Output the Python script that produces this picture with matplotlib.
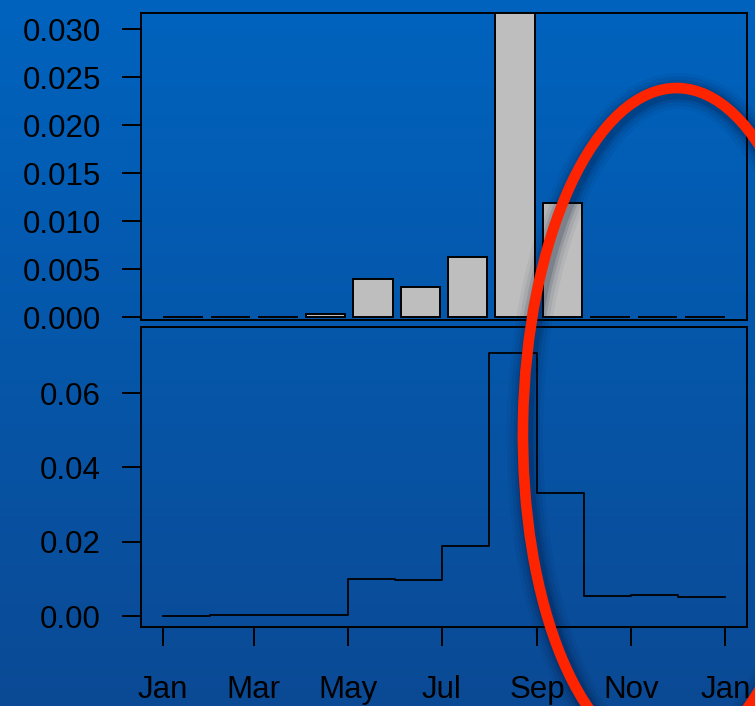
import datetime as dt
import numpy as np
import matplotlib
matplotlib.use("Agg")
import matplotlib.pyplot as plt
from matplotlib.patches import Ellipse

plt.rcParams['font.family'] = ['Liberation Sans', 'DejaVu Sans']

# monthly bar heights (Aug runs off the top of the panel)
bar_values = [0.0, 0.0, 0.0, 0.0003, 0.0040, 0.0031, 0.0063, 0.038, 0.0119, 0.0, 0.0, 0.0]
bar_ticks = [0.000, 0.005, 0.010, 0.015, 0.020, 0.025, 0.030]

# monthly step series
month_starts = [dt.date(2009, m, 1) for m in range(1, 13)]
step_values = [0.0001, 0.0004, 0.0004, 0.0003, 0.0099, 0.0097, 0.0188,
               0.0709, 0.0332, 0.0054, 0.0057, 0.0052]
step_ticks = [0.00, 0.02, 0.04, 0.06]
month_labels = ['Jan', 'Mar', 'May', 'Jul', 'Sep', 'Nov', 'Jan']

W, H = 755, 706
fig = plt.figure(figsize=(W / 100, H / 100), dpi=100)

# blue gradient backdrop
bg = fig.add_axes([0, 0, 1, 1], zorder=-5)
grad = np.linspace(0, 1, 256)[:, None]
top_c = np.array([0x00, 0x63, 0xbe]) / 255
bot_c = np.array([0x0b, 0x4a, 0x95]) / 255
img = top_c[None, None, :] * (1 - grad[:, :, None]) + bot_c[None, None, :] * grad[:, :, None]
bg.imshow(img, aspect='auto', extent=[0, 1, 0, 1], origin='upper')
bg.set_axis_off()

lw = 1.4
fs = 22.5


def frame(ax):
    ax.set_facecolor('none')
    for s in ax.spines.values():
        s.set_linewidth(lw)
        s.set_color('black')


# top panel: bar chart
ax1 = fig.add_axes([141 / W, 1 - 320 / H, 606 / W, 307 / H])
frame(ax1)
xpos = [0.7 + 1.2 * i for i in range(len(bar_values))]
ax1.bar(xpos, bar_values, width=1.0, color='#bebebe', edgecolor='black', linewidth=lw)
ax1.set_xlim(-0.368, 14.968)
ax1.set_ylim(-0.0003125, 0.03167)
ax1.set_yticks(bar_ticks)
ax1.set_yticklabels(['%.3f' % v for v in bar_ticks])
ax1.set_xticks([])
ax1.tick_params(axis='y', length=14, width=lw, pad=15, labelsize=fs, colors='black')

# bottom panel: step line
ax2 = fig.add_axes([141 / W, 1 - 627.3 / H, 606 / W, 300 / H])
frame(ax2)
end = dt.date(2010, 1, 1)
xs = month_starts + [end]
ys = step_values + [step_values[-1]]
ax2.step(xs, ys, where='post', color='black', linewidth=1.3)
span = (end - month_starts[0]).days * 0.04
ax2.set_xlim(month_starts[0] - dt.timedelta(days=span), end + dt.timedelta(days=span))
ax2.set_ylim(-0.00304, 0.0777)
ax2.set_yticks(step_ticks)
ax2.set_yticklabels(['%.2f' % v for v in step_ticks])
tick_dates = [dt.date(2009, m, 1) for m in (1, 3, 5, 7, 9, 11)] + [end]
ax2.set_xticks(tick_dates)
ax2.set_xticklabels(month_labels)
ax2.tick_params(axis='y', length=14, width=lw, pad=15, labelsize=fs, colors='black')
ax2.tick_params(axis='x', length=14, width=lw, pad=20, labelsize=fs, colors='black')

# red ring with soft shadow
ov = fig.add_axes([0, 0, 1, 1], zorder=10)
ov.set_xlim(0, W)
ov.set_ylim(H, 0)
ov.set_axis_off()
ov.patch.set_alpha(0)
cx, cy, ew, eh, ang = 672, 424, 298, 672, 1.0
for slw, a in [(26, 0.05), (21, 0.07), (16, 0.11), (12, 0.16)]:
    ov.add_patch(Ellipse((cx + 2, cy + 3), ew, eh, angle=ang, fill=False,
                         edgecolor='#001030', linewidth=slw, alpha=a))
ov.add_patch(Ellipse((cx, cy), ew, eh, angle=ang, fill=False,
                     edgecolor='#ff2400', linewidth=7.7))

fig.savefig('out.png', dpi=100)
